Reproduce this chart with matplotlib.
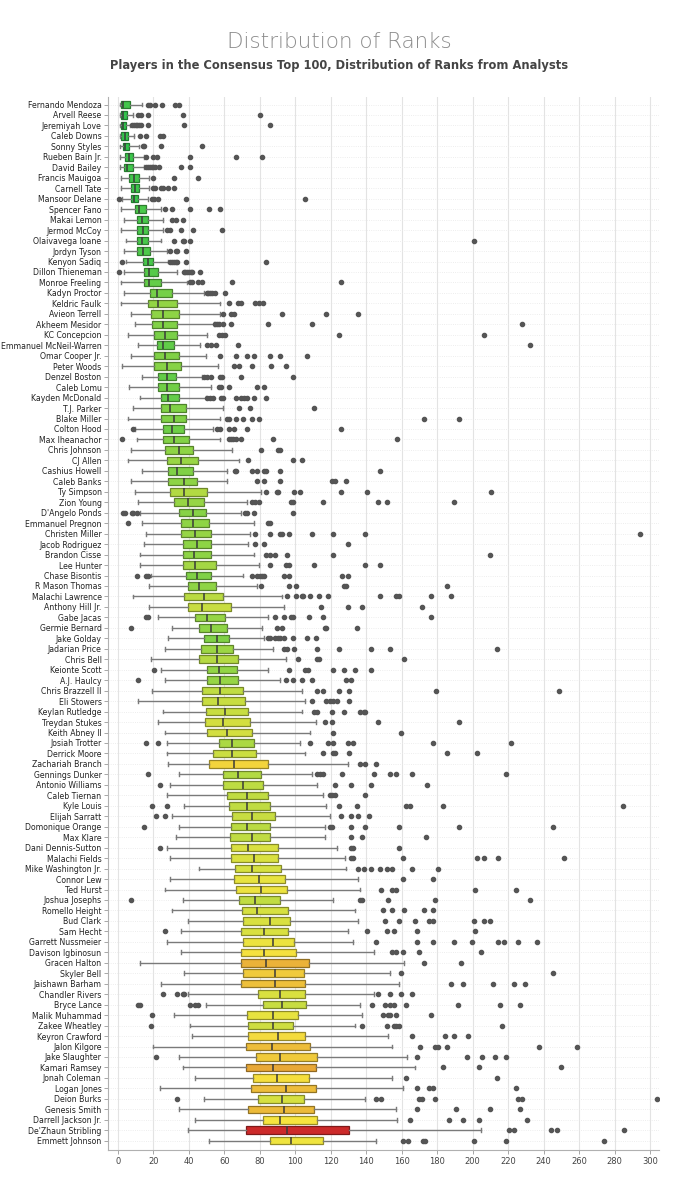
import matplotlib
matplotlib.use("Agg")
import matplotlib.pyplot as plt
import numpy as np
from matplotlib.colors import LinearSegmentedColormap, Normalize, to_rgb

players = ["Fernando Mendoza", "Arvell Reese", "Jeremiyah Love", "Caleb Downs", "Sonny Styles",
           "Rueben Bain Jr.", "David Bailey", "Francis Mauigoa", "Carnell Tate", "Mansoor Delane",
           "Spencer Fano", "Makai Lemon", "Jermod McCoy", "Olaivavega Ioane", "Jordyn Tyson",
           "Kenyon Sadiq", "Dillon Thieneman", "Monroe Freeling", "Kadyn Proctor", "Keldric Faulk",
           "Avieon Terrell", "Akheem Mesidor", "KC Concepcion", "Emmanuel McNeil-Warren", "Omar Cooper Jr.",
           "Peter Woods", "Denzel Boston", "Caleb Lomu", "Kayden McDonald", "T.J. Parker",
           "Blake Miller", "Colton Hood", "Max Iheanachor", "Chris Johnson", "CJ Allen",
           "Cashius Howell", "Caleb Banks", "Ty Simpson", "Zion Young", "D'Angelo Ponds",
           "Emmanuel Pregnon", "Christen Miller", "Jacob Rodriguez", "Brandon Cisse", "Lee Hunter",
           "Chase Bisontis", "R Mason Thomas", "Malachi Lawrence", "Anthony Hill Jr.", "Gabe Jacas",
           "Germie Bernard", "Jake Golday", "Jadarian Price", "Chris Bell", "Keionte Scott",
           "A.J. Haulcy", "Chris Brazzell II", "Eli Stowers", "Keylan Rutledge", "Treydan Stukes",
           "Keith Abney II", "Josiah Trotter", "Derrick Moore", "Zachariah Branch", "Gennings Dunker",
           "Antonio Williams", "Caleb Tiernan", "Kyle Louis", "Elijah Sarratt", "Domonique Orange",
           "Max Klare", "Dani Dennis-Sutton", "Malachi Fields", "Mike Washington Jr.", "Connor Lew",
           "Ted Hurst", "Joshua Josephs", "Romello Height", "Bud Clark", "Sam Hecht",
           "Garrett Nussmeier", "Davison Igbinosun", "Gracen Halton", "Skyler Bell", "Jaishawn Barham",
           "Chandler Rivers", "Bryce Lance", "Malik Muhammad", "Zakee Wheatley", "Keyron Crawford",
           "Jalon Kilgore", "Jake Slaughter", "Kamari Ramsey", "Jonah Coleman", "Logan Jones",
           "Deion Burks", "Genesis Smith", "Darrell Jackson Jr.", "De'Zhaun Stribling", "Emmett Johnson"]

whisker_low = [1, 1, 1, 1, 1, 1, 1, 1.5, 1.5, 2.5,
               1.5, 3.5, 1.5, 4.5, 3.5, 4.5, 3.5, 1.5, 3.5, 1.5,
               7.5, 9.5, 5.5, 11.5, 7.5, 2.5, 13.5, 6.5, 12.5, 8.5,
               5.5, 9.5, 10.5, 7.5, 5.5, 13.5, 7.5, 9.5, 11.5, 12.5,
               13.5, 16, 14.5, 12.5, 12.5, 18.5, 17.5, 8.5, 17.5, 22.5,
               30.5, 28.5, 26.5, 18.5, 24.5, 26.5, 19.5, 11.5, 25.5, 22.5,
               26.5, 27.5, 27.5, 28.5, 34.5, 29.5, 27.5, 37.5, 30.5, 34.5,
               32.5, 27.5, 29.5, 45.5, 29.5, 26.5, 36.5, 30.5, 39.5, 35.5,
               27.5, 35.5, 12.5, 37.5, 24.5, 39.5, 49.5, 31.5, 40.5, 41.5,
               20, 34.5, 36.5, 43.5, 23.5, 48.5, 34.5, 43.5, 39.5, 51.5]

q1 = [1.5, 2, 2, 2, 3, 4, 3.5, 6.5, 7.5, 7.5,
      9.5, 11, 11, 11, 11, 14, 14.5, 14.5, 18, 17,
      18.5, 19.5, 20.5, 22, 20.5, 20.5, 22.5, 22.5, 24.5, 24.5,
      24.5, 25.5, 25.5, 26.5, 27.5, 28.5, 28.5, 29.5, 31.5, 34.5,
      35.5, 35.5, 36.5, 36.5, 36.5, 38.5, 39.5, 37.5, 39.5, 43.5,
      45.5, 48.5, 47, 46, 50.5, 50.5, 47.5, 47.5, 49.5, 49,
      50, 57, 53.5, 51.5, 59.5, 59.5, 61.5, 62.5, 64.5, 63.5,
      63, 63.5, 63.5, 66, 65.5, 66.5, 68.5, 70, 70.5, 69.5,
      70.5, 69.5, 69.5, 70.5, 69.5, 79, 82, 73, 73.5, 73.5,
      72, 78, 72, 76, 75, 79, 73.5, 82, 72, 86]

median = [3, 3, 3, 4, 4, 6, 5, 9, 9.5, 9,
          12, 13.5, 14, 13.5, 14, 17, 17.5, 17.5, 22, 22.5,
          25.5, 25.5, 26.5, 25.5, 26.5, 27.5, 27.5, 27.5, 28.5, 29.5,
          31.5, 30.5, 31.5, 34.5, 35.5, 33.5, 37.5, 37.5, 39.5, 42.5,
          42.5, 43.5, 44.5, 43, 43.5, 44.5, 45.5, 48.5, 47.5, 50.5,
          52.5, 56, 56, 56, 57, 57.5, 57.5, 56.5, 60.5, 59.5,
          61.5, 64.5, 64.5, 65.5, 67.5, 70.5, 72.5, 72.5, 75.5, 72.5,
          75.5, 73.5, 76.5, 75.5, 79.5, 80.5, 77.5, 78.5, 85.5, 82.5,
          87.5, 82.5, 83.5, 88.5, 88.5, 91.5, 92.5, 87.5, 87.5, 90.5,
          87, 91.5, 87.5, 89.5, 95, 92.5, 93.5, 91.5, 95.5, 97.5]

q3 = [7, 5, 4.5, 5.5, 6, 8.5, 8.5, 12, 12, 11.5,
      16, 17, 17, 17, 18, 20, 22.5, 24.5, 30.5, 33.5,
      34.5, 33.5, 33.5, 31.5, 34.5, 35.5, 32.5, 34.5, 34.5, 38.5,
      38.5, 37, 40, 42.5, 45, 42.5, 44.5, 50.5, 48.5, 49.5,
      51.5, 52.5, 52.5, 52.5, 55.5, 52.5, 55.5, 59.5, 63.5, 60.5,
      61.5, 62.5, 65, 67.5, 67, 67.5, 70.5, 71.5, 73.5, 74.5,
      75.5, 77, 78, 84.5, 80.5, 82, 84.5, 85.5, 88.5, 85.5,
      86, 90, 90, 92, 94, 95.5, 91.5, 96, 97, 96,
      99.5, 100.5, 107.5, 105, 105.5, 105.5, 106, 101.5, 98.5, 105.5,
      108.5, 112.5, 111.5, 107.5, 111.5, 105, 110.5, 112.5, 130.5, 115.5]

whisker_high = [13.5, 8.5, 7, 9, 12, 15, 15, 17.5, 17.5, 17,
                24.5, 25.5, 25.5, 24.5, 27.5, 28.5, 33.5, 39, 48.5, 57.5,
                57.5, 54, 50.5, 46.5, 49.5, 56.5, 47.5, 52.5, 49.5, 59.5,
                57.5, 53.5, 57.5, 64.5, 68.5, 61.5, 61.5, 80.5, 72.5, 69.5,
                76.5, 74.5, 73.5, 76.5, 79.5, 70.5, 78.5, 92.5, 93.5, 84.5,
                81.5, 82.5, 87.5, 94.5, 84.5, 91.5, 103.5, 105.5, 103.5, 111.5,
                108.5, 102.5, 105.5, 129.5, 109.5, 112.5, 115.5, 117.5, 119.5, 117,
                116.5, 123.5, 128, 128.5, 135.5, 136.5, 121.5, 133.5, 135.5, 129.5,
                132.5, 144.5, 161.5, 153.5, 158.5, 144.5, 136.5, 137.5, 133.5, 152.5,
                154.5, 163, 167.5, 154.5, 160.5, 139.5, 156.5, 157.5, 204.5, 145.5]

outliers = [
    [17, 18, 21, 25, 32, 34.5],
    [11.5, 13, 17, 36.5, 80],
    [8, 9, 10, 11, 12, 13, 17, 37.5, 85.5],
    [12.5, 16, 23.5, 25.5],
    [14, 15, 24.5, 47.5],
    [16, 20, 22, 40.5, 66.5, 81.5],
    [16, 17, 18, 19, 20, 21, 23, 35.5, 40.5],
    [20, 31.5, 45],
    [20, 21, 24.5, 25.5, 28.5, 31.5],
    [0.5, 19.5, 20.5, 22.5, 38.5, 105.5],
    [26.5, 30.5, 40.5, 51.5, 57.5],
    [30.5, 32.5, 36.5],
    [27.5, 29.5, 35.5, 42.5, 58.5],
    [31.5, 36.5, 37.5, 40.5, 200.5],
    [29.5, 32.5, 33.5, 38.5],
    [2.5, 29.5, 30.5, 31.5, 32.5, 33.5, 38.5, 83.5],
    [0.5, 37, 38, 39, 40, 41, 42, 46.5],
    [40.5, 42, 45, 47.5, 64.5, 125.5],
    [50, 51, 52, 53, 55, 60.5],
    [62.5, 67.5, 69.5, 77.5, 79.5, 82],
    [59.5, 63.5, 65.5, 92.5, 117.5, 135.5],
    [55, 56, 57, 59, 63.5, 84.5, 109.5, 227.5],
    [57, 58.5, 60.5, 124.5, 206.5],
    [50, 52.5, 55.5, 67.5, 232.5],
    [57.5, 66.5, 72.5, 76.5, 85.5, 91.5, 106.5],
    [65.5, 68.5, 75.5, 86.5, 94.5],
    [48.5, 50.5, 52.5, 57.5, 58.5, 69.5, 98.5],
    [57, 58, 62.5, 78.5, 82.5],
    [50.5, 52, 53.5, 58, 59, 66.5, 69.5, 71, 72.5, 76.5, 83.5],
    [68.5, 74.5, 110.5],
    [61.5, 62.5, 66.5, 70.5, 75.5, 79.5, 172.5, 192.5],
    [8.5, 56, 57.5, 62.5, 65.5, 72.5, 125.5],
    [2.5, 62.5, 64, 65, 66.5, 69.5, 87.5, 157.5],
    [80.5, 90.5, 91.5],
    [73.5, 98.5, 103.5],
    [66, 66.5, 75.5, 78.5, 82.5, 83.5, 91.5, 147.5],
    [78.5, 82.5, 91.5, 120.5, 122.5, 128.5],
    [83.5, 89.5, 90.5, 99.5, 102.5, 125.5, 140.5, 210.5],
    [75.5, 77.5, 79.5, 97.5, 98.5, 115.5, 146.5, 151.5, 189.5],
    [3, 4, 8, 8.5, 10.5, 71.5, 72.5, 76.5, 98.5],
    [5.5, 84.5, 85.5],
    [77.5, 85.5, 91.5, 92.5, 96.5, 109.5, 121.5, 139.5, 294.5],
    [77.5, 82.5, 129.5],
    [83.5, 85.5, 88.5, 95.5, 121.5, 209.5],
    [85.5, 94.5, 96.5, 110.5, 139.5, 147.5],
    [10.5, 16, 17, 75.5, 78.5, 80, 81.5, 82.5, 93.5, 96.5, 126.5, 129.5],
    [80.5, 96.5, 100.5, 127.5, 128.5, 185.5],
    [95.5, 100.5, 103.5, 104.5, 108.5, 113.5, 118.5, 147.5, 156.5, 158.5, 176.5, 187.5],
    [114.5, 129.5, 137.5, 171.5],
    [16, 17, 88.5, 93.5, 97.5, 98.5, 107.5, 115.5, 176.5],
    [7.5, 89.5, 92.5, 116.5, 117.5, 134.5],
    [84.5, 86, 88.5, 90, 91.5, 93.5, 98.5, 106.5, 111.5],
    [93.5, 95.5, 99.5, 112.5, 124.5, 142.5, 153.5, 213.5],
    [101.5, 112.5, 113.5, 161.5],
    [20.5, 96.5, 105.5, 107, 121.5, 127.5, 133.5, 142.5],
    [11.5, 94.5, 98.5, 103.5, 109.5, 128.5, 131.5],
    [112.5, 115.5, 124.5, 130.5, 179.5, 248.5],
    [109.5, 117.5, 119.5, 121.5, 123.5, 130.5],
    [110.5, 112.5, 120.5, 127.5, 136.5, 138.5, 139.5],
    [116.5, 120.5, 146.5, 192.5],
    [121.5, 159.5],
    [16, 22.5, 108.5, 118.5, 121.5, 129.5, 132.5, 177.5, 221.5],
    [115.5, 121.5, 122.5, 130.5, 185.5, 202.5],
    [136.5, 139.5, 145.5],
    [17, 112.5, 114, 115.5, 126.5, 144.5, 153.5, 156.5, 165.5, 218.5],
    [23.5, 122.5, 131.5, 142.5, 174.5],
    [119.5, 120.5, 122.5, 139.5],
    [19.5, 27.5, 124.5, 134.5, 162.5, 164.5, 183.5, 284.5],
    [21.5, 26.5, 125.5, 131.5, 135.5, 141.5],
    [14.5, 119.5, 120.5, 131.5, 139.5, 158.5, 192.5, 245.5],
    [131.5, 137.5, 173.5],
    [23.5, 131.5, 132.5, 158.5],
    [131.5, 132.5, 160.5, 202.5, 206.5, 214.5, 251.5],
    [135.5, 138.5, 142.5, 147.5, 151.5, 154.5, 165.5, 180.5],
    [160.5, 177.5],
    [148.5, 154.5, 156.5, 201.5, 224.5],
    [7.5, 136.5, 137.5, 152.5, 178.5, 232.5],
    [149.5, 154.5, 161.5, 172.5, 177.5],
    [150.5, 158.5, 167.5, 175.5, 177.5, 200.5, 206.5, 209.5],
    [26.5, 140.5, 151.5, 155.5, 168.5, 201.5],
    [145.5, 168.5, 177.5, 189.5, 199.5, 214.5, 217.5, 225.5, 236.5],
    [154.5, 156.5, 160.5, 169.5, 204.5],
    [172.5, 193.5],
    [159.5, 245.5],
    [187.5, 194.5, 211.5, 223.5, 229.5],
    [25.5, 33.5, 36.5, 37.5, 146.5, 153.5, 159.5, 165.5],
    [11.5, 12.5, 40.5, 43.5, 45, 143.5, 150.5, 153.5, 155.5, 162.5, 191.5, 215.5, 226.5],
    [19.5, 149.5, 152.5, 153.5, 156.5, 176.5],
    [18.5, 137.5, 151.5, 155.5, 156.5, 158.5, 216.5],
    [165.5, 184.5, 189.5, 197.5],
    [170.5, 178.5, 180.5, 185.5, 237.5, 258.5],
    [21.5, 168.5, 196.5, 205.5, 212.5, 218.5],
    [183.5, 203.5, 249.5],
    [162.5, 213.5],
    [168.5, 175.5, 177.5, 224.5],
    [33.5, 145.5, 148.5, 169.5, 171.5, 178.5, 225.5, 227.5, 304],
    [168.5, 190.5, 209.5, 226.5],
    [164.5, 186.5, 194.5, 203.5, 230.5],
    [220.5, 223.5, 244, 247.5, 285],
    [160.5, 163.5, 172, 173, 200.5, 218.5, 274],
]

x_ticks = list(range(0, 301, 20))

# ---------------------------------------------------------------
fig = plt.figure(figsize=(6.78, 12), dpi=100)
ax = fig.add_axes([0.160, 0.042, 0.812, 0.877])

stats = []
for i, name in enumerate(players):
    stats.append(dict(label=name, whislo=whisker_low[i], q1=q1[i], med=median[i],
                      q3=q3[i], whishi=whisker_high[i], fliers=outliers[i]))

positions = np.arange(len(players))
iqr = np.array(q3) - np.array(q1)
cmap = LinearSegmentedColormap.from_list("gyr", ["#2ec44c", "#f6e53e", "#cc2a2a"])
norm = Normalize(vmin=iqr.min(), vmax=iqr.max())

common = dict(positions=positions, widths=0.72, patch_artist=True,
              showfliers=True, capwidths=0.36,
              whiskerprops=dict(color="#7a7a7a", linewidth=1.0),
              capprops=dict(color="#7a7a7a", linewidth=1.0),
              medianprops=dict(color="#3a3a3a", linewidth=1.1),
              flierprops=dict(marker="o", markersize=3, markerfacecolor="#555555",
                              markeredgecolor="#555555", linestyle="none"),
              boxprops=dict(linewidth=0.9), zorder=3)
try:
    bp = ax.bxp(stats, orientation="horizontal", **common)
except TypeError:
    bp = ax.bxp(stats, vert=False, **common)

for patch, v in zip(bp["boxes"], iqr):
    c = np.array(to_rgb(cmap(norm(v))))
    patch.set_facecolor(c)
    patch.set_edgecolor(c * 0.62)

ax.set_xlim(-5.3, 305)
ax.set_ylim(len(players) - 0.15, -0.7)
ax.set_yticks(positions)
ax.set_yticklabels(players, fontsize=5.6, color="#222222")
ax.set_xticks(x_ticks)
ax.set_xticklabels([str(t) for t in x_ticks], fontsize=6.0, color="#444444")
ax.tick_params(axis="both", length=3, width=0.6, color="#999999", pad=2)

ax.grid(axis="x", color="#e3e3e3", linewidth=0.8, zorder=0)
ax.grid(axis="y", color="#e8e8e8", linewidth=0.6, linestyle=":", zorder=0)
ax.set_axisbelow(True)
for s in ["top", "right"]:
    ax.spines[s].set_visible(False)
for s in ["left", "bottom"]:
    ax.spines[s].set_color("#b0b0b0")
    ax.spines[s].set_linewidth(0.8)

fig.text(0.5, 0.965, "Distribution of Ranks", ha="center", va="center",
         fontsize=15.5, color="#8c8c8c", fontweight="light")
fig.text(0.5, 0.945, "Players in the Consensus Top 100, Distribution of Ranks from Analysts",
         ha="center", va="center", fontsize=8.3, color="#444444", fontweight="bold")

fig.savefig("out.png", dpi=100, facecolor="white")
